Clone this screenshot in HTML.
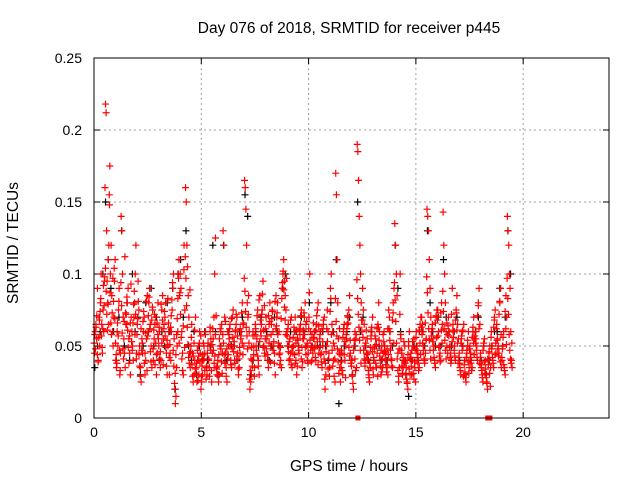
<!DOCTYPE html>
<html><head><meta charset="utf-8"><style>
body{margin:0;background:#fff;}
svg{display:block;font-family:"Liberation Sans",sans-serif;}
</style></head><body>
<svg id="chart" width="640" height="480">
<text x="349" y="33" font-size="15.5" text-anchor="middle">Day 076 of 2018, SRMTID for receiver p445</text>
<text x="349" y="471" font-size="15.5" text-anchor="middle">GPS time / hours</text>
<text x="18" y="243" font-size="15.5" text-anchor="middle" transform="rotate(-90 18 243)">SRMTID / TECUs</text>
<g id="grid"></g>
<g id="axes"></g>
<g id="black"></g>
<g id="red"></g>
<rect x="94" y="58" width="515" height="360" fill="none" stroke="#000" stroke-width="1"/>
</svg>
<script>
const xTicks=[0,5,10,15,20];
const yTicks=[0,0.05,0.1,0.15,0.2,0.25];
const yTickLabels=["0","0.05","0.1","0.15","0.2","0.25"];
const binHours=0.25;
const redBins=[
[0.045,0.06,0.065,0.055,0.09,0.04,0.07],
[0.05,0.08,0.1,0.065,0.045,0.075,0.06,0.095],
[0.16,0.218,0.212,0.13,0.095,0.08,0.11,0.065,0.155,0.175],
[0.1,0.12,0.085,0.06,0.05,0.07,0.095,0.11],
[0.04,0.035,0.06,0.05,0.075,0.09,0.03,0.045],
[0.14,0.13,0.1,0.07,0.055,0.045,0.035,0.065],
[0.065,0.08,0.09,0.055,0.045,0.03,0.07],
[0.06,0.05,0.04,0.07,0.08,0.1,0.12,0.045],
[0.065,0.095,0.075,0.05,0.035,0.025,0.055],
[0.045,0.06,0.07,0.03,0.04,0.055,0.085],
[0.06,0.08,0.09,0.065,0.05,0.035,0.075],
[0.04,0.055,0.065,0.07,0.03,0.045,0.08],
[0.05,0.06,0.035,0.04,0.075,0.085,0.055],
[0.065,0.07,0.08,0.045,0.03,0.05,0.06],
[0.03,0.045,0.04,0.06,0.075,0.09,0.1,0.055],
[0.02,0.01,0.015,0.035,0.05,0.06,0.1,0.11,0.085],
[0.1,0.09,0.06,0.045,0.03,0.12,0.075],
[0.16,0.15,0.12,0.105,0.085,0.07,0.045,0.035],
[0.05,0.065,0.045,0.025,0.03,0.04,0.07],
[0.035,0.025,0.04,0.05,0.03,0.06,0.045,0.02],
[0.025,0.03,0.04,0.05,0.045,0.06,0.035],
[0.03,0.05,0.04,0.035,0.06,0.055,0.025],
[0.045,0.055,0.07,0.1,0.125,0.035,0.03],
[0.04,0.025,0.03,0.05,0.06,0.065,0.045],
[0.13,0.12,0.07,0.045,0.035,0.025,0.06],
[0.05,0.055,0.065,0.04,0.035,0.07,0.075],
[0.05,0.04,0.06,0.065,0.07,0.045,0.03],
[0.035,0.045,0.055,0.06,0.08,0.065,0.05],
[0.165,0.16,0.145,0.12,0.08,0.07,0.085,0.06],
[0.02,0.025,0.03,0.04,0.06,0.05,0.035],
[0.065,0.05,0.055,0.075,0.04,0.03,0.085],
[0.06,0.065,0.075,0.095,0.05,0.045,0.055],
[0.07,0.055,0.04,0.035,0.065,0.08,0.05],
[0.065,0.075,0.06,0.05,0.045,0.03,0.085],
[0.07,0.08,0.05,0.06,0.045,0.04,0.035],
[0.09,0.1,0.11,0.095,0.085,0.075,0.06],
[0.05,0.065,0.04,0.055,0.045,0.07,0.035],
[0.045,0.05,0.06,0.07,0.04,0.03,0.055],
[0.05,0.045,0.06,0.065,0.075,0.035,0.055],
[0.055,0.07,0.08,0.065,0.05,0.04,0.045],
[0.07,0.1,0.06,0.05,0.04,0.045,0.055],
[0.06,0.05,0.04,0.065,0.075,0.08,0.045],
[0.055,0.06,0.045,0.035,0.05,0.065,0.07],
[0.02,0.03,0.05,0.075,0.06,0.045,0.035],
[0.09,0.1,0.065,0.06,0.04,0.05,0.025],
[0.17,0.155,0.11,0.08,0.055,0.045,0.035,0.025],
[0.035,0.045,0.03,0.06,0.065,0.04,0.05],
[0.055,0.065,0.07,0.075,0.085,0.045,0.04],
[0.04,0.03,0.02,0.05,0.06,0.055,0.035],
[0.19,0.185,0.165,0.14,0.12,0.1,0.08,0.06],
[0.09,0.075,0.065,0.05,0.04,0.045,0.055],
[0.045,0.03,0.025,0.035,0.055,0.06,0.07],
[0.03,0.04,0.05,0.055,0.035,0.045,0.065],
[0.08,0.06,0.04,0.03,0.05,0.035,0.045],
[0.06,0.05,0.045,0.04,0.035,0.03,0.075],
[0.07,0.06,0.05,0.04,0.035,0.08,0.09],
[0.135,0.12,0.1,0.085,0.045,0.025,0.035],
[0.1,0.055,0.045,0.03,0.035,0.04,0.05],
[0.04,0.035,0.025,0.02,0.05,0.06,0.03],
[0.045,0.03,0.04,0.05,0.055,0.035,0.025],
[0.06,0.05,0.045,0.04,0.035,0.065,0.07],
[0.07,0.065,0.06,0.05,0.04,0.045,0.055],
[0.145,0.14,0.13,0.11,0.09,0.07,0.06],
[0.065,0.055,0.05,0.04,0.035,0.07,0.075],
[0.075,0.06,0.05,0.045,0.04,0.08,0.065],
[0.143,0.12,0.1,0.08,0.06,0.05,0.045],
[0.07,0.06,0.05,0.045,0.04,0.09,0.065],
[0.06,0.05,0.04,0.075,0.085,0.065,0.055],
[0.045,0.035,0.03,0.055,0.06,0.05,0.065],
[0.04,0.03,0.025,0.045,0.05,0.06,0.035],
[0.05,0.045,0.04,0.035,0.06,0.07,0.055],
[0.06,0.055,0.05,0.04,0.08,0.09,0.065],
[0.045,0.035,0.03,0.025,0.05,0.055,0.04],
[0.03,0.025,0.02,0.04,0.045,0.05,0.035],
[0.06,0.05,0.04,0.035,0.07,0.075,0.045],
[0.065,0.055,0.05,0.045,0.08,0.09,0.035],
[0.04,0.05,0.06,0.035,0.03,0.085,0.07],
[0.14,0.13,0.12,0.1,0.09,0.06,0.04,0.035]
];
// second pass of red samples, in thousandths of a TECU
const redBins2=[
[52,58,48,63,71,44,39,56],[68,74,83,57,49,62,92,78],[98,104,88,72,61,79,120,148],[87,66,58,73,97,81,104,69],
[52,44,38,66,57,81,47,33],[94,78,59,48,41,67,112,73],[72,84,61,49,38,57,66,93],[53,47,66,79,88,58,72,41],
[58,69,81,44,36,29,62,47],[52,67,74,38,45,59,81,33],[57,71,84,62,46,39,68,77],[48,61,72,37,52,44,66,58],
[55,63,41,46,79,52,68,37],[62,74,57,49,36,54,83,66],[42,51,63,71,82,94,47,36],[24,31,44,58,69,83,97,52],
[87,72,56,41,33,64,103,49],[112,97,78,63,51,42,38,89],[46,56,37,29,43,52,61,34],[31,38,47,26,43,52,39,57],
[29,36,44,52,41,33,58,27],[36,45,52,41,29,63,47,33],[51,62,47,38,43,58,71,34],[36,29,44,55,62,48,39,31],
[58,52,44,38,67,29,48,41],[44,58,62,51,37,69,48,56],[46,53,38,61,72,43,57,34],[41,49,62,57,73,52,44,66],
[97,88,74,63,57,48,72,52],[27,33,41,49,36,57,44,29],[58,62,47,71,43,36,82,53],[68,57,72,86,49,61,78,43],
[62,48,57,44,71,52,67,39],[58,69,74,47,53,38,81,62],[64,73,58,52,44,37,49,69],[83,94,102,89,77,68,58,97],
[57,62,46,53,41,68,37,49],[49,56,63,44,38,52,61,36],[54,47,62,58,71,41,49,39],[61,73,58,49,44,67,52,38],
[62,87,54,47,39,58,49,66],[56,48,42,61,71,53,37,64],[49,58,44,39,62,53,68,41],[27,38,46,62,53,34,41,29],
[74,83,58,47,36,52,29,41],[83,67,57,48,39,31,62,44],[39,47,33,56,62,44,53,28],[58,62,71,66,49,43,54,38],
[36,29,24,47,54,41,33,58],[96,83,72,63,54,47,38,68],[68,56,47,41,36,52,61,44],[41,33,28,38,49,57,63,46],
[34,42,48,57,38,51,62,29],[63,54,43,36,47,32,41,58],[53,46,41,37,32,48,62,44],[62,54,47,41,36,68,73,52],
[94,82,67,52,41,33,29,48],[72,58,47,36,31,42,53,39],[38,31,27,24,44,53,34,41],[42,36,47,53,31,27,39,48],
[56,47,42,38,33,61,52,44],[63,58,52,47,41,38,66,54],[98,87,73,62,54,47,41,57],[62,53,47,42,38,66,71,56],
[68,57,49,43,39,73,61,52],[88,74,62,54,47,41,66,58],[64,57,49,42,38,72,53,61],[56,47,43,68,73,61,52,38],
[42,38,33,52,57,47,61,29],[37,32,28,42,47,54,39,31],[48,42,38,33,56,63,52,44],[57,52,47,42,71,78,62,38],
[42,37,33,28,47,52,39,31],[34,28,24,41,37,46,31,22],[56,48,42,38,63,68,44,52],[62,54,48,43,72,81,39,58],
[42,48,56,37,33,74,62,51],[97,83,72,58,47,41,38,52]
];
const blackBins=[
[0.035,0.05],[0.06,0.1],[0.15,0.11],[0.09,0.06],[0.04,0.07],[0.13,0.05],[0.08,0.04],[0.1,0.06],
[0.07,0.03],[0.05,0.08],[0.06,0.09],[0.05,0.07],[0.04,0.06],[0.05,0.08],[0.06,0.09],[0.02,0.1],
[0.11,0.07],[0.13,0.05],[0.04,0.06],[0.03,0.05],[0.04,0.06],[0.04,0.05],[0.12,0.06],[0.03,0.05],
[0.12,0.04],[0.06,0.05],[0.05,0.04],[0.06,0.07],[0.155,0.14],[0.03,0.04],[0.06,0.05],[0.07,0.05],
[0.06,0.04],[0.05,0.07],[0.06,0.05],[0.09,0.1],[0.05,0.06],[0.05,0.06],[0.05,0.07],[0.06,0.05],
[0.08,0.05],[0.06,0.05],[0.05,0.06],[0.05,0.04],[0.08,0.06],[0.11,0.01],[0.04,0.05],[0.06,0.07],
[0.03,0.05],[0.15,0.06],[0.07,0.05],[0.04,0.06],[0.04,0.05],[0.05,0.04],[0.05,0.04],[0.06,0.05],
[0.12,0.09],[0.06,0.04],[0.03,0.015],[0.04,0.05],[0.05,0.06],[0.06,0.05],[0.13,0.08],[0.06,0.05],
[0.07,0.05],[0.11,0.07],[0.06,0.05],[0.06,0.07],[0.04,0.05],[0.03,0.05],[0.04,0.06],[0.06,0.07],
[0.04,0.05],[0.03,0.04],[0.05,0.06],[0.06,0.09],[0.05,0.07],[0.13,0.1]
];
const axisMarkersX=[12.3,18.35,18.45];
const NS="http://www.w3.org/2000/svg";
const X0=94,X1=609,Y0=418,Y1=58,XMAX=24,YMAX=0.25;
function sx(v){return X0+(X1-X0)*v/XMAX;}
function sy(v){return Y0-(Y0-Y1)*v/YMAX;}
function mk(tag,attrs,parent){const e=document.createElementNS(NS,tag);for(const k in attrs)e.setAttribute(k,attrs[k]);parent.appendChild(e);return e;}
const grid=document.getElementById('grid'),axes=document.getElementById('axes');
xTicks.forEach(t=>{const x=sx(t);
 if(t>0){const g=mk('line',{x1:x,x2:x,y1:Y1,y2:Y0,stroke:'#a0a0a0','stroke-dasharray':'2,3'},grid);
 
 }
 mk('line',{x1:x,x2:x,y1:Y0,y2:Y0-6,stroke:'#000'},axes);
 mk('line',{x1:x,x2:x,y1:Y1,y2:Y1+6,stroke:'#000'},axes);
 const l=mk('text',{x:x,y:Y0+19,'font-size':14,'text-anchor':'middle'},axes);l.textContent=t;
 
 
});
yTicks.forEach((t,i)=>{const y=sy(t);
 if(i>0&&i<yTicks.length-1){const g=mk('line',{x1:X0,x2:X1,y1:y,y2:y,stroke:'#a0a0a0','stroke-dasharray':'2,3'},grid);
 
 }
 mk('line',{x1:X0,x2:X0+6,y1:y,y2:y,stroke:'#000'},axes);
 mk('line',{x1:X1,x2:X1-6,y1:y,y2:y,stroke:'#000'},axes);
 const l=mk('text',{x:X0-12,y:y+5,'font-size':14,'text-anchor':'end'},axes);l.textContent=yTickLabels[i];
 
 
});
function plus(g,t,v,c){const x=sx(t),y=sy(v);
 const p=mk('path',{d:`M${x-3.5},${y}h7M${x},${y-3.5}v7`,stroke:c,'stroke-width':1.2,fill:'none'},g);
 
 }
const bg=document.getElementById('black'),rg=document.getElementById('red');
blackBins.forEach((vals,b)=>vals.forEach((v,j)=>plus(bg,b*binHours+(j+0.3)*binHours/vals.length,v,'#000')));
redBins.forEach((vals,b)=>vals.forEach((v,j)=>plus(rg,b*binHours+(j+0.5)*binHours/vals.length,v,'#f00')));
redBins2.forEach((vals,b)=>vals.forEach((v,j)=>plus(rg,b*binHours+(j+0.1)*binHours/vals.length,v/1000,'#f00')));
axisMarkersX.forEach(t=>{const r=mk('rect',{x:sx(t)-2.5,y:Y0-2.5,width:5,height:5,fill:'#f00'},rg);
 
 });
</script>
</body></html>
